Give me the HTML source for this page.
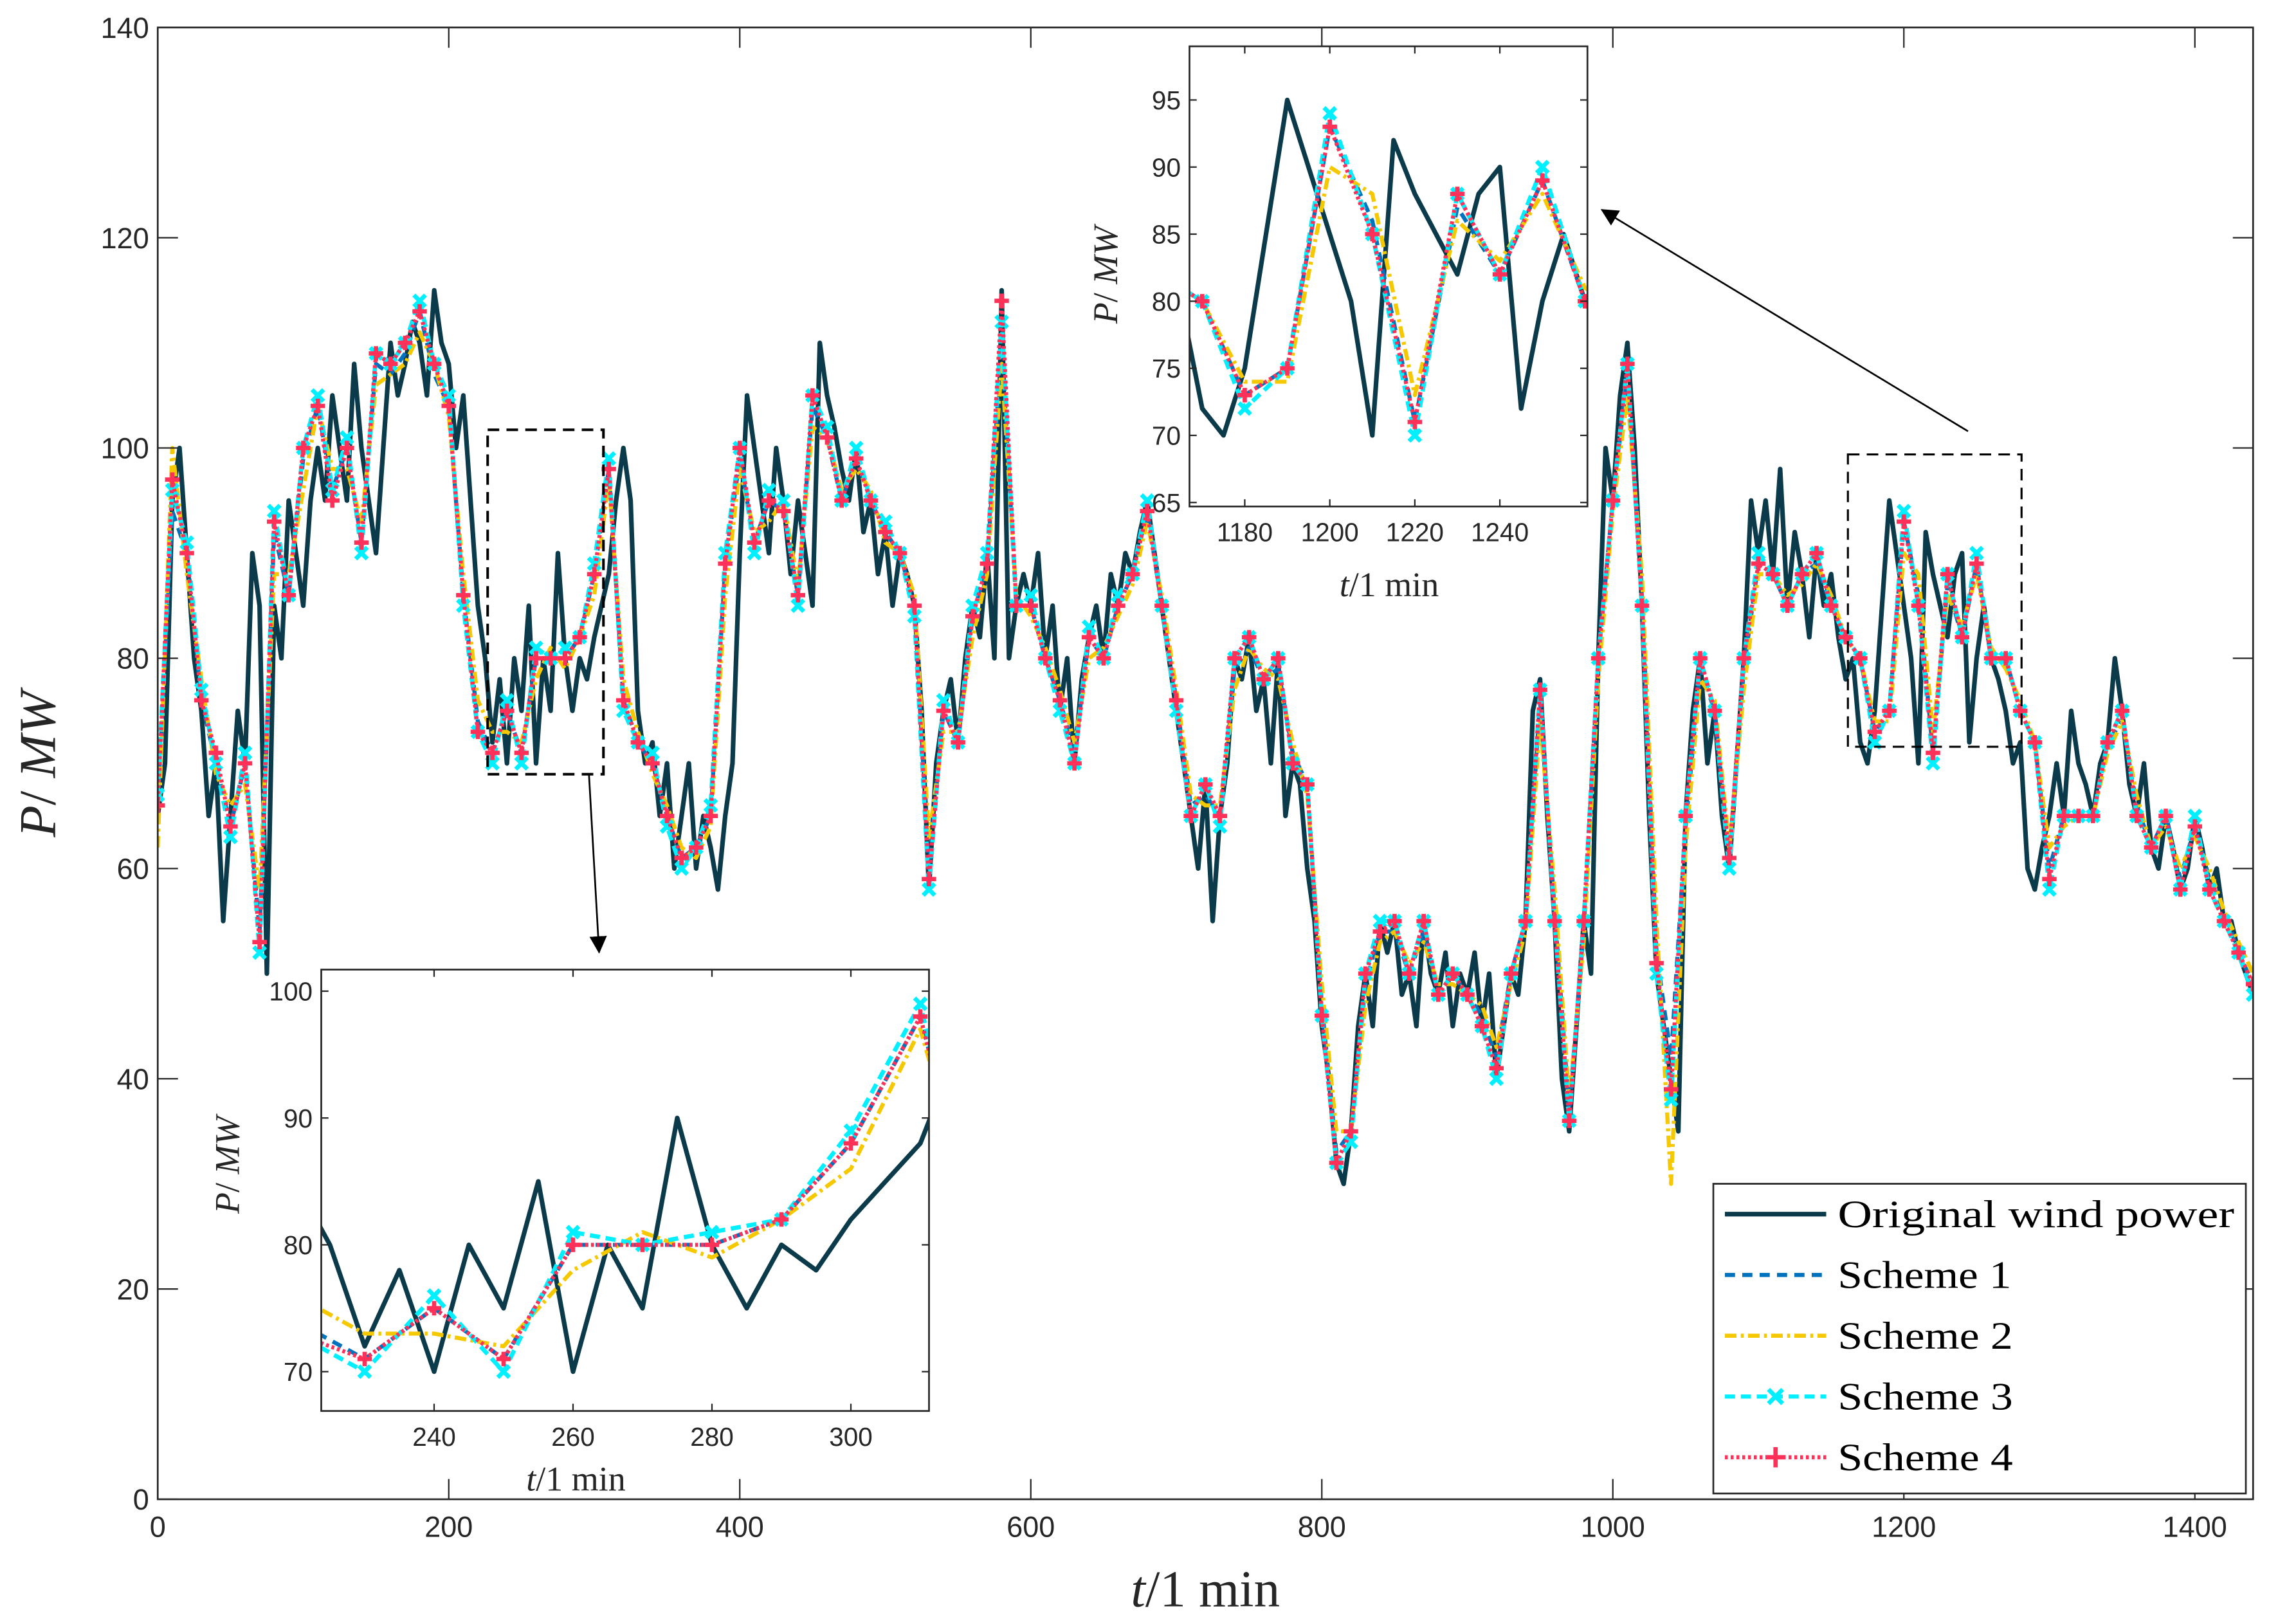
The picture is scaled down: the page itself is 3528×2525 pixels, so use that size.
<!DOCTYPE html>
<html><head><meta charset="utf-8"><style>
html,body{margin:0;padding:0;background:#fff;width:3528px;height:2525px;overflow:hidden;}
svg{display:block;}
</style></head><body>
<svg id="chart" xmlns="http://www.w3.org/2000/svg" width="3528" height="2525" viewBox="0 0 1568 1122.2" preserveAspectRatio="none">
<rect x="0" y="0" width="1568" height="1123" fill="#fff"/>
<defs>
<clipPath id="clipMain"><rect x="109" y="19" width="1448" height="1017"/></clipPath>
<clipPath id="clipIn1"><rect x="222" y="670" width="420" height="305"/></clipPath>
<clipPath id="clipIn2"><rect x="822" y="32" width="275" height="318"/></clipPath>
<marker id="ah" markerWidth="12" markerHeight="12" refX="11" refY="6" orient="auto" markerUnits="userSpaceOnUse"><path d="M0,0 L12,6 L0,12 Z" fill="#000"/></marker>
</defs>
<g id="mainG"></g>
<g id="in1G"></g>
<g id="in2G"></g>
<g id="legendG"></g>
</svg>
<script>
const NS='http://www.w3.org/2000/svg';
// Original wind power, 5-min sampling, 0..1440
const original=[65,70,95,100,90,80,75,65,70,55,65,75,70,90,85,50,85,80,95,90,85,95,100,95,105,100,95,108,100,95,90,100,110,105,108,112,110,105,115,110,108,100,105,95,85,80,72,78,70,80,75,85,70,80,75,90,80,75,80,78,82,85,88,95,100,95,75,70,72,65,70,60,65,70,60,65,62,58,65,70,90,105,100,95,90,100,95,88,95,90,85,110,105,102,98,95,100,92,95,88,92,85,90,88,85,75,58,70,75,78,72,80,85,82,90,80,115,80,85,88,85,90,80,85,75,80,70,78,82,85,80,88,85,90,88,92,95,90,85,80,75,70,65,60,68,55,65,70,80,78,82,75,78,70,80,65,70,68,60,55,45,40,32,30,35,45,50,45,55,52,55,48,50,45,55,50,48,52,45,50,48,52,45,50,40,45,50,48,55,75,78,65,55,40,35,45,55,50,80,100,95,105,110,100,85,65,50,45,40,35,65,75,80,70,75,65,60,70,80,95,90,95,88,98,85,92,88,82,90,85,88,82,78,80,72,70,75,85,95,90,85,80,70,92,88,85,82,88,90,72,80,85,80,78,75,70,72,60,58,62,65,70,65,75,70,68,65,70,72,80,75,68,65,70,62,60,65,62,58,60,65,62,58,60,55,55,52,50,48];
// Schemes, 10-min sampling
const scheme1=[66,94,90,76,70,64,70,54,92,86,99,104,96,100,91,108,107,109,113,107,104,86,74,71,75,71,80,80,80,82,88,98,76,72,70,65,61,62,65,89,99,91,95,94,86,104,101,95,99,95,92,90,85,60,75,72,84,89,110,85,85,80,76,71,82,80,85,88,94,85,76,66,67,65,79,81,78,79,71,68,47,33,35,49,54,54,50,54,48,50,48,46,42,50,55,76,56,37,54,80,95,107,86,52,42,64,79,75,61,79,89,88,85,88,89,85,82,80,73,75,93,86,71,87,82,89,80,80,75,72,60,65,65,65,72,74,66,62,65,59,64,59,56,52,49];
const scheme2=[62,100,88,78,69,66,68,58,88,88,96,104,98,98,93,106,107,108,111,108,103,88,76,73,73,72,78,81,79,82,86,97,78,73,69,66,62,61,64,86,98,92,93,95,87,102,101,96,98,96,91,90,86,63,73,73,82,88,108,86,84,81,77,72,80,81,84,87,93,86,77,67,66,66,77,81,79,78,72,67,49,35,35,47,53,54,51,53,49,49,48,47,43,49,54,74,58,38,53,78,94,105,88,55,30,62,78,76,62,77,88,88,86,87,89,86,82,80,74,74,90,88,73,86,83,88,81,79,76,72,62,64,65,65,71,74,67,62,64,60,63,60,56,53,50];
const scheme3=[67,96,91,77,70,63,71,52,94,86,100,105,96,101,90,109,108,110,114,108,105,85,73,70,76,70,81,80,81,82,89,99,75,72,71,64,60,62,66,90,100,90,96,95,85,105,102,95,100,95,93,90,84,58,76,72,85,90,112,85,86,80,75,70,83,80,86,88,95,85,75,65,68,64,80,82,78,80,70,68,46,32,34,50,55,55,50,55,48,50,48,45,40,50,55,77,55,36,55,80,95,108,85,50,38,65,80,75,60,80,90,88,85,88,90,85,82,80,72,75,94,85,70,88,82,90,80,80,75,72,58,65,65,65,72,75,65,62,65,58,65,58,55,52,48];
const scheme4=[66,97,90,76,71,64,70,53,93,86,100,104,95,100,91,109,108,110,113,108,104,86,73,71,75,71,80,80,80,82,88,98,76,72,70,65,61,62,65,89,100,91,95,94,86,105,101,95,99,95,92,90,85,59,75,72,84,89,114,85,85,80,76,70,82,80,85,88,94,85,76,65,68,65,80,82,78,80,70,68,46,32,35,50,54,55,50,55,48,50,48,45,41,50,55,77,55,36,55,80,95,108,85,51,39,65,80,75,61,80,89,88,85,88,90,85,82,80,73,75,93,85,71,88,82,89,80,80,75,72,59,65,65,65,72,75,65,62,65,58,64,58,55,52,49];
const xTicksMain=[0,200,400,600,800,1000,1200,1400];
const yTicksMain=[0,20,40,60,80,100,120,140];
const xTicksIn1=[240,260,280,300];
const yTicksIn1=[70,80,90,100];
const xTicksIn2=[1180,1200,1220,1240];
const yTicksIn2=[65,70,75,80,85,90,95];

function mk(tag,attrs,parent){const e=document.createElementNS(NS,tag);for(const k in attrs)e.setAttribute(k,attrs[k]);if(parent)parent.appendChild(e);return e;}
function lin(d0,d1,r0,r1){return v=>r0+(v-d0)*(r1-r0)/(d1-d0);}

const styles=[
 {arr:original,color:'#0b3a4a',w:3.2,dash:'',mk:null,name:'original-line'},
 {arr:scheme1,color:'#0072bd',w:2.8,dash:'7,5',mk:null,name:'scheme1-line'},
 {arr:scheme2,color:'#f5c800',w:2.8,dash:'8,3,2,3',mk:null,name:'scheme2-line'},
 {arr:scheme3,color:'#00f0ff',w:3,dash:'7,4',mk:'x',name:'scheme3-line'},
 {arr:scheme4,color:'#ff3158',w:2.8,dash:'2,2',mk:'+',name:'scheme4-line'}
];

function drawSeries(g,xs,ys,clip,msize){
  const cg=mk('g',{'clip-path':'url(#'+clip+')'},g);
  styles.forEach(s=>{
    const n=s.arr.length, step=1440/(n-1);
    let d='';
    s.arr.forEach((v,i)=>{d+=(i?'L':'M')+xs(i*step).toFixed(2)+','+ys(v).toFixed(2);});
    const p=mk('path',{d:d,fill:'none',stroke:s.color,'stroke-width':s.w,'stroke-dasharray':s.dash,'stroke-linejoin':'round'},cg);
    
    
    if(s.mk){
      s.arr.forEach((v,i)=>{
        const x=xs(i*step),y=ys(v),r=msize;
        const d2=s.mk==='+'?`M${x-r},${y}L${x+r},${y}M${x},${y-r}L${x},${y+r}`:`M${x-r*0.8},${y-r*0.8}L${x+r*0.8},${y+r*0.8}M${x-r*0.8},${y+r*0.8}L${x+r*0.8},${y-r*0.8}`;
        const m=mk('path',{d:d2,stroke:s.color,'stroke-width':3,fill:'none'},cg);
        
        
      });
    }
  });
}

function axes(g,x0,y0,x1,y1,xs,ys,xt,yt,fs,tl){
  const f=mk('rect',{x:x0,y:y0,width:x1-x0,height:y1-y0,fill:'none',stroke:'#262626','stroke-width':1.2},g);
  
  
  xt.forEach(v=>{const x=xs(v);
    mk('line',{x1:x,x2:x,y1:y1,y2:y1-tl,stroke:'#262626','stroke-width':1},g);
    mk('line',{x1:x,x2:x,y1:y0,y2:y0+tl,stroke:'#262626','stroke-width':1},g);
    const t=mk('text',{x:x,y:y1+fs+6,'font-size':fs,'font-family':'Liberation Sans, sans-serif','text-anchor':'middle',fill:'#262626'},g);t.textContent=v;
    
    
  });
  yt.forEach(v=>{const y=ys(v);
    mk('line',{x1:x0,x2:x0+tl,y1:y,y2:y,stroke:'#262626','stroke-width':1},g);
    mk('line',{x1:x1,x2:x1-tl,y1:y,y2:y,stroke:'#262626','stroke-width':1},g);
    const t=mk('text',{x:x0-6,y:y+fs*0.36,'font-size':fs,'font-family':'Liberation Sans, sans-serif','text-anchor':'end',fill:'#262626'},g);t.textContent=v;
    
    
  });
}

// main
const mg=document.getElementById('mainG');
const xM=lin(0,1440,109,1557), yM=lin(0,140,1036,19);
drawSeries(mg,xM,yM,'clipMain',5);
axes(mg,109,19,1557,1036,xM,yM,xTicksMain,yTicksMain,20,14);
{const t=mk('text',{x:833,y:1110,'font-size':36,'font-family':'Liberation Serif, serif','text-anchor':'middle',fill:'#262626'},mg);
 t.innerHTML='<tspan font-style="italic">t</tspan>/1 min';
 
 const t2=mk('text',{x:0,y:0,'font-size':36,'font-family':'Liberation Serif, serif','text-anchor':'middle',fill:'#262626',transform:'translate(38,528) rotate(-90)'},mg);
 t2.innerHTML='<tspan font-style="italic">P</tspan>/ <tspan font-style="italic">MW</tspan>';
 }
// zoom boxes & arrows
{const b1=mk('rect',{x:337,y:297,width:80,height:238,fill:'none',stroke:'#000','stroke-width':1.8,'stroke-dasharray':'8,5'},mg);
 
 const b2=mk('rect',{x:1277,y:314,width:120,height:202,fill:'none',stroke:'#000','stroke-width':1.4,'stroke-dasharray':'8,5'},mg);
 
 const a1=mk('line',{x1:407,y1:535,x2:414,y2:658,stroke:'#000','stroke-width':1.2,'marker-end':'url(#ah)'},mg);
 
 const a2=mk('line',{x1:1360,y1:298,x2:1107,y2:145,stroke:'#000','stroke-width':1.2,'marker-end':'url(#ah)'},mg);
 }

// inset 1
const g1=document.getElementById('in1G');
mk('rect',{x:222,y:670,width:420,height:305,fill:'#fff'},g1);
const xI1=lin(223.75,311.25,222,642), yI1=lin(66.9,101.7,975,670);
drawSeries(g1,xI1,yI1,'clipIn1',5);
axes(g1,222,670,642,975,xI1,yI1,xTicksIn1,yTicksIn1,18,5);
{const t=mk('text',{x:398,y:1030,'font-size':24,'font-family':'Liberation Serif, serif','text-anchor':'middle',fill:'#262626'},g1);
 t.innerHTML='<tspan font-style="italic">t</tspan>/1 min';
 const t2=mk('text',{x:0,y:0,'font-size':24,'font-family':'Liberation Serif, serif','text-anchor':'middle',fill:'#262626',transform:'translate(165,805) rotate(-90)'},g1);
 t2.innerHTML='<tspan font-style="italic">P</tspan>/ <tspan font-style="italic">MW</tspan>';}

// inset 2
const g2=document.getElementById('in2G');
mk('rect',{x:822,y:32,width:275,height:318,fill:'#fff'},g2);
const xI2=lin(1167,1260.6,822,1097), yI2=lin(64.7,99,350,32);
drawSeries(g2,xI2,yI2,'clipIn2',5);
axes(g2,822,32,1097,350,xI2,yI2,xTicksIn2,yTicksIn2,18,5);
{const t=mk('text',{x:960,y:412,'font-size':24,'font-family':'Liberation Serif, serif','text-anchor':'middle',fill:'#262626'},g2);
 t.innerHTML='<tspan font-style="italic">t</tspan>/1 min';
 const t2=mk('text',{x:0,y:0,'font-size':24,'font-family':'Liberation Serif, serif','text-anchor':'middle',fill:'#262626',transform:'translate(772,190) rotate(-90)'},g2);
 t2.innerHTML='<tspan font-style="italic">P</tspan>/ <tspan font-style="italic">MW</tspan>';}

// legend
const lg=document.getElementById('legendG');
mk('rect',{x:1184,y:818,width:368,height:214,fill:'#fff',stroke:'#262626','stroke-width':1.2},lg);
const labels=['Original wind power','Scheme 1','Scheme 2','Scheme 3','Scheme 4'];
const lens=[274,120,121,121,121];
styles.forEach((s,i)=>{
  const y=839+i*42;
  const e=mk('g',{},lg);
  
  
  mk('line',{x1:1192,x2:1262,y1:y,y2:y,stroke:s.color,'stroke-width':i==0?3.2:2.8,'stroke-dasharray':s.dash},e);
  if(s.mk){const x=1227,r=7;
    const d=s.mk==='+'?`M${x-r},${y}L${x+r},${y}M${x},${y-r}L${x},${y+r}`:`M${x-r*0.7},${y-r*0.7}L${x+r*0.7},${y+r*0.7}M${x-r*0.7},${y+r*0.7}L${x+r*0.7},${y-r*0.7}`;
    mk('path',{d:d,stroke:s.color,'stroke-width':3,fill:'none'},e);}
  const t=mk('text',{x:1270,y:y+9,'font-size':27,'font-family':'Liberation Serif, serif',fill:'#000',textLength:lens[i],lengthAdjust:'spacingAndGlyphs'},e);
  t.textContent=labels[i];
});
</script>
</body></html>
